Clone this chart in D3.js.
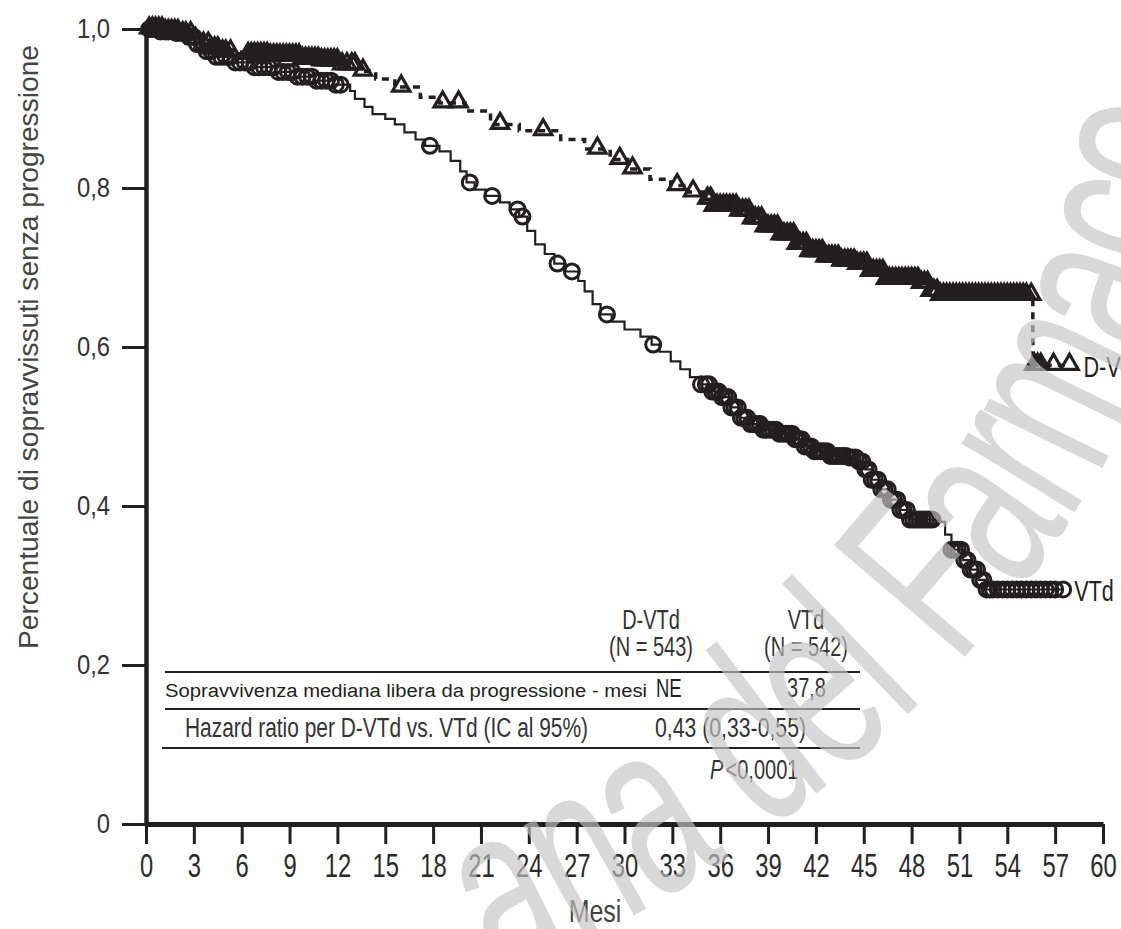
<!DOCTYPE html>
<html>
<head>
<meta charset="utf-8">
<script src="https://cdn.jsdelivr.net/npm/d3@7/dist/d3.min.js"></script>
<style>
  body { margin: 0; background: #fff; }
  svg { display: block; }
  text { font-family: "Liberation Sans", Arial, sans-serif; }
</style>
</head>
<body>
<svg id="chart"></svg>
<script>
var width = 1121, height = 929;

// axis ticks
var xTicks = [0, 3, 6, 9, 12, 15, 18, 21, 24, 27, 30, 33, 36, 39, 42, 45, 48, 51, 54, 57, 60];
var yTicks = [0, 0.2, 0.4, 0.6, 0.8, 1.0];
var yTickLabels = ["0", "0,2", "0,4", "0,6", "0,8", "1,0"];

// Kaplan-Meier steps, VTd
var vtdTime = [0, 0.9, 1.8, 2.5, 3.1, 3.7, 4.3, 5.6, 6.8, 8.1, 9.3, 10.6, 11.8, 12.8, 13.1, 13.7, 14.2, 15.0, 15.6, 16.2, 16.9, 17.5, 18.4, 19.1, 19.7, 20.1, 20.6, 21.3, 22.2, 22.8, 23.4, 23.9, 24.4, 25.0, 25.6, 26.3, 27.1, 27.5, 28.0, 28.5, 29.2, 30.0, 31.0, 31.7, 32.2, 32.9, 33.5, 34.1, 34.7, 35.5, 36.1, 36.7, 37.2, 37.9, 38.6, 39.7, 40.7, 41.3, 41.9, 42.9, 44.0, 44.6, 45.1, 45.5, 46.0, 46.6, 47.3, 47.9, 49.8, 50.1, 50.5, 51.2, 51.7, 52.2, 52.6, 57.5];
var vtdSurv = [1.0, 0.997, 0.995, 0.99, 0.981, 0.972, 0.965, 0.958, 0.952, 0.946, 0.94, 0.935, 0.93, 0.922, 0.912, 0.902, 0.893, 0.887, 0.88, 0.87, 0.861, 0.853, 0.846, 0.834, 0.821, 0.807, 0.798, 0.79, 0.782, 0.773, 0.764, 0.746, 0.729, 0.717, 0.705, 0.695, 0.683, 0.67, 0.654, 0.641, 0.632, 0.622, 0.613, 0.603, 0.594, 0.582, 0.572, 0.562, 0.553, 0.544, 0.537, 0.524, 0.511, 0.503, 0.496, 0.491, 0.484, 0.475, 0.469, 0.463, 0.461, 0.456, 0.446, 0.433, 0.421, 0.408, 0.395, 0.383, 0.38, 0.364, 0.345, 0.332, 0.32, 0.307, 0.295, 0.295];

// Kaplan-Meier steps, D-VTd
var dvtdTime = [0, 1.2, 2.1, 2.9, 3.4, 4.0, 4.8, 5.9, 7.8, 9.7, 10.9, 12.2, 13.4, 14.4, 15.6, 17.2, 18.4, 20.0, 21.6, 23.4, 26.0, 27.5, 29.1, 30.2, 31.6, 32.9, 34.0, 34.9, 35.5, 37.2, 38.0, 38.8, 39.7, 40.7, 41.6, 42.6, 43.5, 44.6, 45.4, 46.3, 48.5, 49.2, 49.8, 55.6, 57.9];
var dvtdSurv = [1.0, 0.997, 0.994, 0.987, 0.981, 0.975, 0.971, 0.968, 0.966, 0.962, 0.96, 0.955, 0.947, 0.937, 0.927, 0.914, 0.907, 0.897, 0.88, 0.872, 0.861, 0.849, 0.836, 0.824, 0.811, 0.803, 0.795, 0.786, 0.777, 0.771, 0.761, 0.751, 0.741, 0.729, 0.72, 0.713, 0.708, 0.704, 0.695, 0.685, 0.68, 0.67, 0.665, 0.577, 0.577];

// censoring times
var vtdCensor = [0.2, 0.4, 0.7, 0.9, 1.2, 1.4, 1.7, 1.9, 2.2, 2.4, 2.7, 3.0, 3.2, 3.5, 3.8, 4.1, 4.4, 4.7, 5.0, 5.3, 5.6, 5.9, 6.2, 6.5, 6.8, 7.1, 7.4, 7.7, 8.0, 8.3, 8.6, 8.9, 9.2, 9.5, 9.8, 10.1, 10.4, 10.7, 11.0, 11.3, 11.6, 11.9, 12.2,
  17.8, 20.3, 21.7, 23.3, 23.6, 25.8, 26.7, 28.9, 31.8, 34.8,
  35.1, 35.3, 35.5, 35.7, 35.9, 36.1, 36.3, 36.5, 36.7, 36.9, 37.1, 37.3, 37.5, 37.7, 37.9, 38.1, 38.3, 38.5, 38.7, 38.9, 39.1, 39.3, 39.5, 39.7, 39.9, 40.1, 40.3, 40.5, 40.7, 40.9, 41.1, 41.3, 41.5, 41.7, 41.9, 42.1, 42.3, 42.5, 42.7, 42.9, 43.1, 43.3, 43.5, 43.7, 43.9, 44.1, 44.3, 44.5, 44.7, 44.9, 45.1, 45.3, 45.5, 45.7, 45.9, 46.1, 46.3, 46.5, 46.7, 46.9, 47.1, 47.3, 47.5, 47.7, 47.9, 48.1, 48.3, 48.5, 48.7, 48.9, 49.1, 49.3,
  50.5, 50.7, 50.9, 51.1, 51.3, 51.5, 51.7, 51.9, 52.1, 52.3, 52.5, 52.7, 52.9, 53.1, 53.4, 53.7, 54.0, 54.3, 54.6, 54.9, 55.2, 55.5, 55.8, 56.1, 56.4, 56.7, 57.0, 57.5];
var dvtdCensor = [0.2, 0.4, 0.6, 0.8, 1.0, 1.2, 1.4, 1.6, 1.8, 2.0, 2.3, 2.5, 2.8, 3.1, 3.6, 3.9, 4.1, 4.3, 4.5, 4.8, 5.0, 5.3, 6.4, 6.6, 6.8, 7.0, 7.2, 7.4, 7.6, 7.8, 8.0, 8.2, 8.4, 8.6, 8.8, 9.0, 9.2, 9.4, 9.6, 9.8, 10.0, 10.2, 10.4, 10.6, 10.8, 11.0, 11.2, 11.4, 11.6, 11.8, 12.0, 12.3, 12.6, 12.9, 13.1, 13.6,
  16.0, 18.6, 19.6, 22.2, 24.9, 28.3, 29.7, 30.5, 33.3, 34.3,
  35.2, 35.4, 35.6, 35.8, 36.0, 36.2, 36.4, 36.6, 36.8, 37.0, 37.2, 37.4, 37.6, 37.8, 38.0, 38.2, 38.4, 38.6, 38.8, 39.0, 39.2, 39.4, 39.6, 39.8, 40.0, 40.2, 40.4, 40.6, 40.8, 41.0, 41.2, 41.4, 41.6, 41.8, 42.0, 42.2, 42.4, 42.6, 42.8, 43.0, 43.2, 43.4, 43.6, 43.8, 44.0, 44.2, 44.4, 44.6, 44.8, 45.0, 45.2, 45.4, 45.6, 45.8, 46.0, 46.2, 46.4, 46.6, 46.8, 47.0, 47.2, 47.4, 47.6, 47.8, 48.0, 48.2, 48.4, 48.6, 48.8, 49.0, 49.2, 49.4, 49.6, 49.8, 50.0, 50.2, 50.4, 50.6, 50.8, 51.0, 51.2, 51.4, 51.6, 51.8, 52.0, 52.2, 52.4, 52.6, 52.8, 53.0, 53.2, 53.4, 53.6, 53.8, 54.0, 54.2, 54.4, 54.6, 54.8, 55.0, 55.2, 55.5,
  55.7, 55.9, 56.1, 56.9, 57.9];

// summary table
var tableHeads = [["D-VTd", "(N = 543)"], ["VTd", "(N = 542)"]];
var medianRow = ["Sopravvivenza mediana libera da progressione - mesi", "NE", "37,8"];
var hazardRow = ["Hazard ratio per D-VTd vs. VTd (IC al 95%)", "0,43 (0,33-0,55)"];
var pValue = "<0,0001";

var ink = "#231f20";

// squeeze a text horizontally to mimic the condensed face of the original
function condense(sel, k) {
    sel.each(function () {
        var len = this.getComputedTextLength();
        d3.select(this).attr('textLength', len * k).attr('lengthAdjust', 'spacingAndGlyphs');
    });
}

var svg = d3.select('#chart')
    .attr('width', width)
    .attr('height', height)
    .attr('viewBox', `0 0 ${width} ${height}`);

svg.append('rect').attr('width', width).attr('height', height).attr('fill', '#fff');

var x = d3.scaleLinear().domain([0, 60]).range([146, 1103]);
var y = d3.scaleLinear().domain([0, 1]).range([824, 29]);

// axes
var xAxis = svg.append('g')
    .attr('transform', `translate(0, ${y(0)})`)
    .call(d3.axisBottom(x).tickValues(xTicks).tickSize(20).tickSizeOuter(0).tickPadding(9));
xAxis.select('.domain').attr('stroke', ink).attr('stroke-width', 5);
xAxis.selectAll('.tick line').attr('stroke', ink).attr('stroke-width', 3);
xAxis.selectAll('.tick text')
    .attr('font-family', null).attr('font-size', 34).attr('fill', '#2a2a2a')
    .attr('dy', '0.72em')
    .call(condense, 0.7);

var yAxis = svg.append('g')
    .attr('transform', `translate(${x(0)}, 0)`)
    .call(d3.axisLeft(y).tickValues(yTicks).tickSize(24).tickSizeOuter(0).tickPadding(12)
        .tickFormat((d, i) => yTickLabels[i]));
yAxis.select('.domain').attr('stroke', ink).attr('stroke-width', 4.5);
yAxis.selectAll('.tick text')
    .attr('font-family', null).attr('font-size', 28).attr('fill', '#333')
    .call(condense, 0.85);
yAxis.selectAll('.tick line').attr('stroke', ink).attr('stroke-width', 3);

// axis titles
svg.append('text')
    .attr('transform', 'translate(38, 347) rotate(-90)')
    .attr('text-anchor', 'middle')
    .attr('font-size', 27)
    .attr('fill', '#444')
    .attr('textLength', 604).attr('lengthAdjust', 'spacingAndGlyphs')
    .text('Percentuale di sopravvissuti senza progressione');

svg.append('text')
    .attr('x', 595).attr('y', 922)
    .attr('text-anchor', 'middle')
    .attr('font-size', 32)
    .attr('fill', '#444')
    .text('Mesi')
    .call(condense, 0.78);

// curves
function steps(times, surv) { return times.map((t, i) => [t, surv[i]]); }
function survAt(times, surv, t) {
    var i = d3.bisectRight(times, t) - 1;
    return surv[Math.max(0, i)];
}

var line = d3.line()
    .x(d => x(d[0]))
    .y(d => y(d[1]))
    .curve(d3.curveStepAfter);

svg.append('path')
    .datum(steps(dvtdTime, dvtdSurv))
    .attr('fill', 'none')
    .attr('stroke', ink)
    .attr('stroke-width', 3.5)
    .attr('stroke-dasharray', '7,6')
    .attr('d', line);

svg.append('path')
    .datum(steps(vtdTime, vtdSurv))
    .attr('fill', 'none')
    .attr('stroke', ink)
    .attr('stroke-width', 2.2)
    .attr('d', line);

var tri = d3.symbol(d3.symbolTriangle, 130);

svg.append('g').selectAll('path')
    .data(dvtdCensor)
    .join('path')
    .attr('transform', t => `translate(${x(t)}, ${y(survAt(dvtdTime, dvtdSurv, t)) - 1})`)
    .attr('d', tri)
    .attr('fill', 'none')
    .attr('stroke', ink)
    .attr('stroke-width', 3.2)
    .attr('stroke-linejoin', 'miter');

svg.append('g').selectAll('circle')
    .data(vtdCensor)
    .join('circle')
    .attr('cx', t => x(t))
    .attr('cy', t => y(survAt(vtdTime, vtdSurv, t)))
    .attr('r', 7.5)
    .attr('fill', 'none')
    .attr('stroke', ink)
    .attr('stroke-width', 3);

// curve labels
svg.append('text')
    .attr('x', x(57.9) + 14).attr('y', y(0.577) + 12)
    .attr('font-size', 30).attr('fill', ink)
    .text('D-VTd')
    .call(condense, 0.72);

svg.append('text')
    .attr('x', x(57.5) + 11).attr('y', y(0.295) + 12)
    .attr('font-size', 30).attr('fill', ink)
    .text('VTd')
    .call(condense, 0.72);

// table
var table = svg.append('g');
var colX = [651, 806];
tableHeads.forEach((h, i) => {
    table.append('text').attr('x', colX[i]).attr('y', 629).attr('text-anchor', 'middle')
        .attr('font-size', 27).attr('fill', '#333').text(h[0]).call(condense, 0.74);
    table.append('text').attr('x', colX[i]).attr('y', 656).attr('text-anchor', 'middle')
        .attr('font-size', 27).attr('fill', '#333').text(h[1]).call(condense, 0.74);
});

[[165, 672], [165, 709], [162, 748]].forEach(r => {
    table.append('line')
        .attr('x1', r[0]).attr('x2', 860)
        .attr('y1', r[1]).attr('y2', r[1])
        .attr('stroke', ink).attr('stroke-width', 2);
});

table.append('text')
    .attr('x', 165).attr('y', 697)
    .attr('font-family', '"Open Sans", "DejaVu Sans", sans-serif')
    .attr('font-size', 18).attr('fill', ink)
    .attr('textLength', 482).attr('lengthAdjust', 'spacingAndGlyphs')
    .text(medianRow[0]);
table.append('text').attr('x', 656).attr('y', 697)
    .attr('font-size', 25).attr('fill', ink).text(medianRow[1]).call(condense, 0.74);
table.append('text').attr('x', 826).attr('y', 697).attr('text-anchor', 'end')
    .attr('font-size', 27).attr('fill', '#333').text(medianRow[2]).call(condense, 0.74);

table.append('text')
    .attr('x', 185).attr('y', 737)
    .attr('font-size', 27).attr('fill', '#333')
    .attr('textLength', 403).attr('lengthAdjust', 'spacingAndGlyphs')
    .text(hazardRow[0]);
table.append('text')
    .attr('x', 655).attr('y', 737)
    .attr('font-size', 27).attr('fill', '#333')
    .attr('textLength', 151).attr('lengthAdjust', 'spacingAndGlyphs')
    .text(hazardRow[1]);

var pText = table.append('text')
    .attr('x', 710).attr('y', 779)
    .attr('font-size', 27).attr('fill', '#333');
pText.append('tspan').attr('font-style', 'italic').text('P');
pText.append('tspan').attr('dx', 3).text(pValue);
pText.call(condense, 0.76);

// watermark, set along a curved baseline
svg.append('defs').append('path')
    .attr('id', 'wm-path')
    .attr('d', 'M 500,985 Q 1105,700 1210,170 L 1250,-60');

svg.append('text')
    .attr('font-size', 250)
    .attr('fill', '#c4c4c4')
    .attr('opacity', 0.65)
    .append('textPath')
    .attr('href', '#wm-path')
    .attr('textLength', 1180)
    .attr('lengthAdjust', 'spacingAndGlyphs')
    .text('ana del Farmaco');
</script>
</body>
</html>
